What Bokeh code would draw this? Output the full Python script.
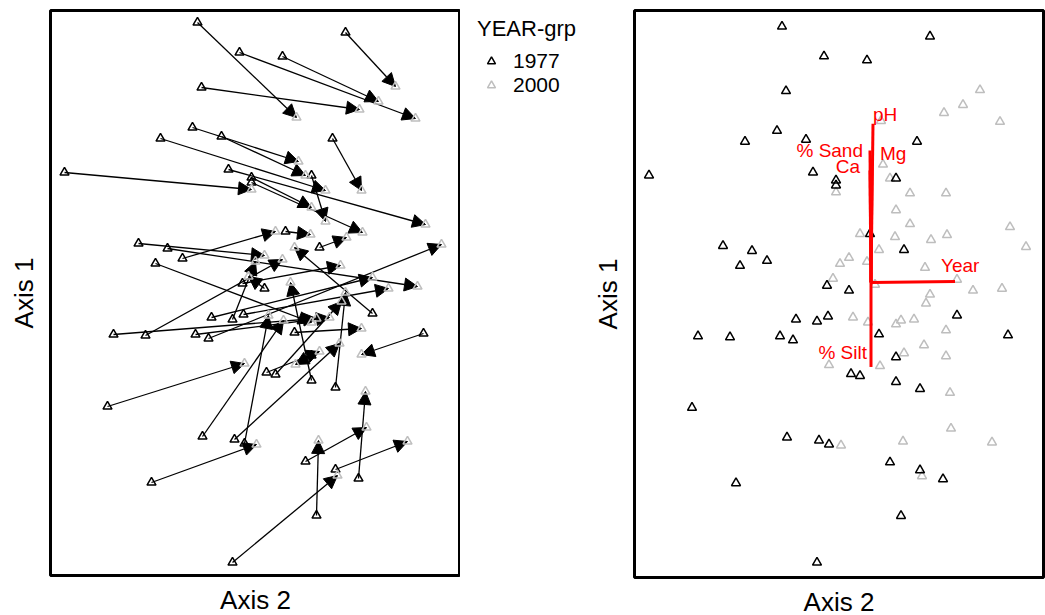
from bokeh.plotting import figure
from bokeh.layouts import row
from bokeh.models import Arrow, NormalHead, ColumnDataSource, Legend, LegendItem, FixedTicker
from bokeh.embed import file_html
from bokeh.resources import INLINE
from bokeh.core.properties import value

# Ordination scores of each plot in 1977 and again in 2000 (same plot order)
axis2_1977 = [-0.58, 0.90, -0.16, 0.27, -0.54, -0.63, -0.95, -0.34, 0.77, -1.91,
              -0.27, -0.04, -0.04, 0.56, 0.30, 0.64, -1.17, -0.88, -1.00, -0.73,
              -0.13, 0.09, -0.44, -0.23, -0.12, 1.17, -1.42, -1.10, -0.60, -0.47,
              0.39, 1.68, 0.56, 0.11, 0.20, 0.56, 0.80, -1.48, -0.53, -0.21,
              -0.11, 0.50, 0.80, 1.03, -1.04, 0.61, -0.23]
axis1_1977 = [2.70, 2.60, 2.40, 2.36, 2.05, 1.65, 1.54, 1.56, 1.54, 1.20,
              1.23, 1.15, 1.10, 1.17, 0.61, 0.45, 0.49, 0.44, 0.29, 0.34,
              0.09, 0.04, -0.25, -0.27, -0.22, -0.21, -0.42, -0.43, -0.42, -0.46,
              -0.40, -0.41, -0.63, -0.80, -0.82, -0.88, -0.95, -1.14, -1.44, -1.47,
              -1.51, -1.69, -1.77, -1.86, -1.90, -2.23, -2.70]
axis2_2000 = [0.41, 1.40, 1.60, 1.23, 1.04, 0.43, 0.70, 0.50, 1.06, -0.04,
              1.70, 0.56, 1.07, 0.70, 0.55, 0.91, 0.09, 1.62, 0.56, 0.20,
              0.85, -0.07, 1.17, 0.00, 1.33, 0.39, 0.61, 0.27, 0.74, 1.86,
              1.06, 1.06, 0.40, 0.64, 0.86, 0.35, 0.90, -0.11, 0.28, 0.84,
              0.13, 1.11, 1.52, 1.10, 0.01, 0.63, 0.82]
axis1_2000 = [1.75, 2.06, 1.74, 1.91, 1.83, 1.31, 1.02, 1.17, 1.02, 1.03,
              0.68, 0.85, 0.60, 0.71, 0.58, 0.55, 0.37, 0.06, -0.30, 0.61,
              0.27, 0.16, 0.15, 0.31, 0.04, 0.45, -0.26, 0.33, -0.25, 0.48,
              -0.36, -0.62, -0.72, -0.59, -0.09, 0.10, 0.00, -0.71, -0.28, -0.51,
              -0.23, -1.35, -1.49, -0.99, -1.52, -1.48, -1.83]

group_labels = ["1977", "2000"]
legend_title = "YEAR-grp"

# Joint-plot vectors of the environmental variables
vec_names = ["pH", "Mg", "% Sand", "Ca", "Year", "% Silt"]
vec_axis2 = [0.33, 0.32, 0.30, 0.30, 1.15, 0.31]
vec_axis1 = [1.72, 1.37, 1.45, 1.25, 0.13, -0.73]
vec_origin = (0.31, 0.12)

FONT = "Liberation Sans"
GREY = "#bebebe"
TRI = dict(marker="triangle", size=9, fill_color=None, line_width=1.5)

# label placement next to each vector tip, in screen pixels (dx, dy down, align)
label_place = {
    "pH": (0, -9, "left"),
    "Mg": (8, -5, "left"),
    "% Sand": (-7, 0, "right"),
    "Ca": (-10, -4, "right"),
    "Year": (-14, -16, "left"),
    "% Silt": (-4, -14, "right"),
}


def panel(fw, fh, xr, yr, border_bottom):
    p = figure(frame_width=fw, frame_height=fh, x_range=xr, y_range=yr,
               output_backend="svg", toolbar_location=None,
               min_border_left=50, min_border_right=0,
               min_border_top=10, min_border_bottom=border_bottom)
    p.grid.visible = False
    p.background_fill_color = "white"
    p.border_fill_color = "white"
    p.outline_line_color = "black"
    p.outline_line_width = 3
    for ax in (p.xaxis, p.yaxis):
        ax.ticker = FixedTicker(ticks=[])
        ax.axis_line_color = None
        ax.major_tick_line_color = None
        ax.minor_tick_line_color = None
        ax.major_tick_out = 0
        ax.major_label_standoff = 0
        ax.major_label_text_font_size = "0px"
        ax.axis_label_text_font = FONT
        ax.axis_label_text_font_size = "26px"
        ax.axis_label_text_font_style = "normal"
        ax.axis_label_text_color = "black"
    p.xaxis.axis_label = "Axis 2"
    p.yaxis.axis_label = "Axis 1"
    p.xaxis.axis_label_standoff = 9
    p.yaxis.axis_label_standoff = 12
    return p


src77 = ColumnDataSource(dict(x=axis2_1977, y=axis1_1977))
src00 = ColumnDataSource(dict(x=axis2_2000, y=axis1_2000))

# ---- left panel: change of each plot from 1977 to 2000 ----
left = panel(410, 565, (-2.05, 2.05), (-2.83, 2.82), 40)
for x0, y0, x1, y1 in zip(axis2_1977, axis1_1977, axis2_2000, axis1_2000):
    left.add_layout(Arrow(x_start=x0, y_start=y0, x_end=x1, y_end=y1,
                          line_color="black", line_width=1.3, level="underlay",
                          end=NormalHead(size=13, fill_color="black",
                                         line_color="black", line_width=1)))
left.scatter("x", "y", source=src77, line_color="black", **TRI)
left.scatter("x", "y", source=src00, line_color=GREY, **TRI)

# ---- legend strip between the panels (its view range lies away from the data) ----
key = figure(width=124, height=615, output_backend="svg", toolbar_location=None,
             x_axis_location=None, y_axis_location=None,
             min_border_left=11, min_border_right=0, min_border_top=0,
             min_border_bottom=0, x_range=(50, 51), y_range=(50, 51))
key.grid.visible = False
key.outline_line_color = None
k77 = key.scatter("x", "y", source=src77, line_color="black", **TRI)
k00 = key.scatter("x", "y", source=src00, line_color=GREY, **TRI)
legend = Legend(items=[LegendItem(label=group_labels[0], renderers=[k77]),
                       LegendItem(label=group_labels[1], renderers=[k00])],
                title=legend_title, location="top_left",
                title_text_font=FONT, title_text_font_size="22px",
                title_text_font_style="normal", title_text_color="black",
                title_standoff=7,
                label_text_font=FONT, label_text_font_size="21px",
                label_text_color="black",
                glyph_width=28, glyph_height=20, label_height=20,
                label_standoff=8, spacing=-2, padding=0, margin=6,
                border_line_color=None, background_fill_alpha=0)
key.add_layout(legend)

# ---- right panel: both years with the joint-plot vectors ----
right = panel(409, 567, (-2.055, 2.035), (-2.851, 2.861), 38)
right.min_border_right = 2
right.scatter("x", "y", source=src00, line_color=GREY, **TRI)
right.scatter("x", "y", source=src77, line_color="black", **TRI)

ox, oy = vec_origin
right.segment(x0=[ox] * len(vec_names), y0=[oy] * len(vec_names),
              x1=vec_axis2, y1=vec_axis1, line_color="red", line_width=3)

px_x = 409 / (2.035 + 2.055)
px_y = 567 / (2.861 + 2.851)
for name, vx, vy in zip(vec_names, vec_axis2, vec_axis1):
    dx, dy, align = label_place[name]
    right.text(x=[vx + dx / px_x], y=[vy - dy / px_y], text=[name],
               text_align=align, text_baseline="alphabetic",
               text_font=value(FONT), text_font_size="19px", text_color="red")

layout = row(left, key, right)
open("out.html", "w").write(file_html(layout, INLINE))
